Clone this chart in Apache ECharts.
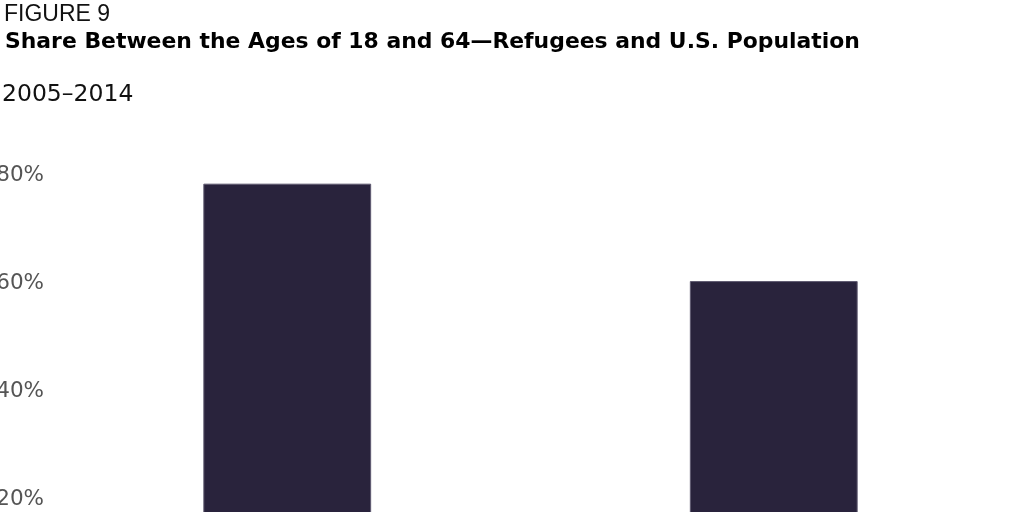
<!DOCTYPE html>
<html><head><meta charset="utf-8">
<script src="https://cdn.jsdelivr.net/npm/echarts@6/dist/echarts.min.js"></script>
<style>html,body{margin:0;padding:0;background:#fff;overflow:hidden}#c{width:1024px;height:512px}</style>
</head><body><div id="c"></div>
<script>
const categories = ['Refugees', 'U.S. Population'];
const shareValues = [78.4, 60.4];
const yTicks = [0, 20, 40, 60, 80];

const chart = echarts.init(document.getElementById('c'), null, {renderer: 'canvas'});
chart.setOption({
  animation: false,
  backgroundColor: '#ffffff',
  title: [
    {text: 'FIGURE 9', left: -1, top: -2, textStyle: {fontFamily: 'Liberation Sans', fontWeight: 'normal', fontSize: 23, color: '#111'}},
    {text: 'Share Between the Ages of 18 and 64\u2014Refugees and U.S. Population', left: 0, top: 26, textStyle: {fontFamily: 'DejaVu Sans', fontWeight: 'bold', fontSize: 21.9, color: '#000'}},
    {text: '2005\u20132014', left: -3, top: 78, textStyle: {fontFamily: 'DejaVu Sans', fontWeight: 'normal', fontSize: 23.5, color: '#111'}}
  ],
  grid: {left: 44, width: 973, top: 175, height: 433, outerBoundsMode: 'none', containLabel: false},
  xAxis: {
    type: 'category', data: categories,
    axisLine: {show: false}, axisTick: {show: false},
    axisLabel: {fontSize: 20, color: '#555'}
  },
  yAxis: {
    type: 'value', min: yTicks[0], max: yTicks[yTicks.length - 1], interval: 20,
    splitLine: {show: false}, axisLine: {show: false}, axisTick: {show: false},
    axisLabel: {formatter: '{value}%', margin: 0, fontSize: 21.5, color: '#555', fontFamily: 'DejaVu Sans'}
  },
  series: [{
    type: 'bar', data: shareValues, barWidth: '34.5%',
    itemStyle: {color: '#29233c', borderColor: '#5e5a70', borderWidth: 1}
  }]
});
</script></body></html>
